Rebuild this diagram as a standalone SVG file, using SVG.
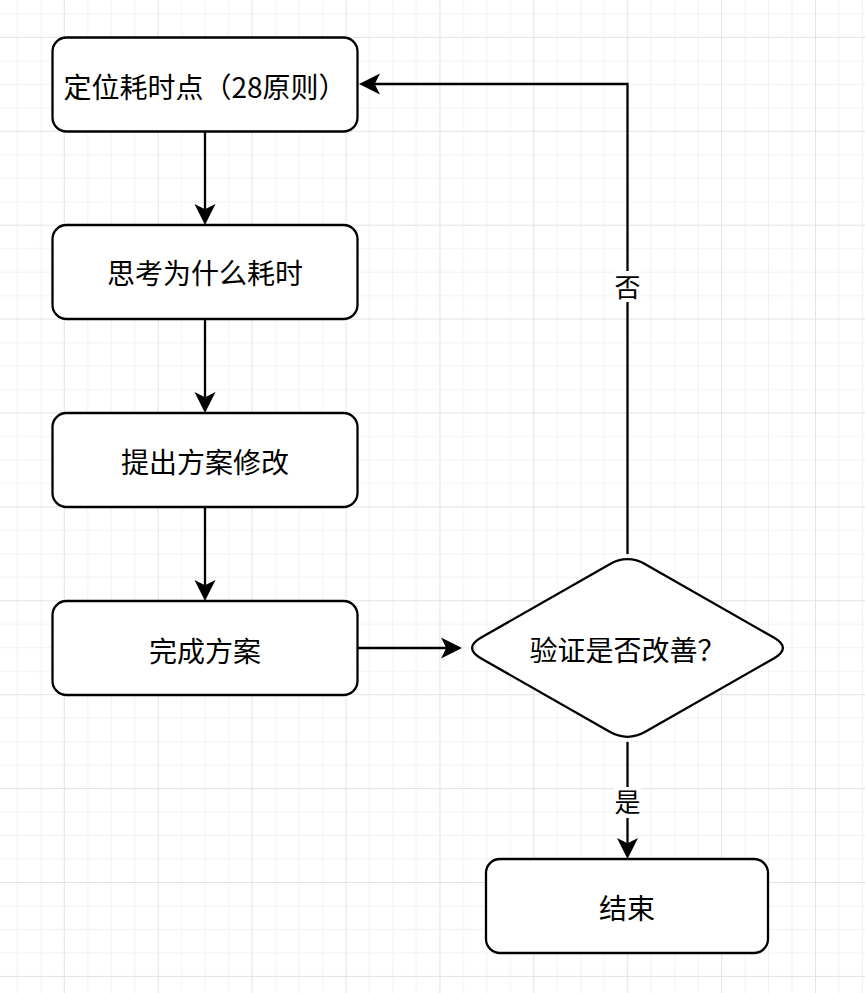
<svg xmlns="http://www.w3.org/2000/svg" width="865" height="993" viewBox="0 0 865 993">
<style>
.node{fill:#ffffff;stroke:#000000;stroke-width:2.3}
.lbl{font-family:"Noto Sans CJK SC","Noto Sans",sans-serif;font-size:28px;fill:#000000;text-anchor:middle}
.elbl{font-family:"Noto Sans CJK SC","Noto Sans",sans-serif;font-size:26px;fill:#000000;text-anchor:middle}
.edge{fill:none;stroke:#000000;stroke-width:2.3}
.lblbg{fill:#ffffff;stroke:none}
</style>
<defs>
<pattern id="grid" patternUnits="userSpaceOnUse" x="-30.1" y="-57" width="93.9" height="93.9">
<path d="M23.975 0V93.9M47.45 0V93.9M70.925 0V93.9M0 23.975H93.9M0 47.45H93.9M0 70.925H93.9" stroke="#f1f1f1" stroke-width="1" fill="none"/>
<path d="M0.5 0V93.9M0 0.5H93.9" stroke="#e2e2e2" stroke-width="1" fill="none"/>
</pattern>
<marker id="arrow" markerUnits="userSpaceOnUse" viewBox="-22 -11 23 22" refX="-16" refY="0" markerWidth="23" markerHeight="22" orient="auto">
<path d="M0,0 L-21,-10.5 L-15.75,0 L-21,10.5 Z" fill="#000000"/>
</marker>
</defs>
<rect x="0" y="0" width="865" height="993" fill="#ffffff"/>
<rect x="0" y="0" width="865" height="993" fill="url(#grid)"/>
<g id="connectors">
<path class="edge" d="M205 131V209" marker-end="url(#arrow)"/>
<path class="edge" d="M205 319V397" marker-end="url(#arrow)"/>
<path class="edge" d="M205 507V585" marker-end="url(#arrow)"/>
<path class="edge" d="M358 648H446" marker-end="url(#arrow)"/>
<path class="edge" d="M627.5 554V84H375" marker-end="url(#arrow)"/>
<path class="edge" d="M627.5 742V843" marker-end="url(#arrow)"/>
<rect class="lblbg" x="614" y="271" width="27" height="31"/>
<text class="elbl" x="627.5" y="296.6">否</text>
<rect class="lblbg" x="614" y="787" width="27" height="31"/>
<text class="elbl" x="627.5" y="812.4">是</text>
</g>
<g id="n1">
<rect class="node" x="52.5" y="37.5" width="305" height="94" rx="14"/>
<text class="lbl" x="205" y="97.6">定位耗时点（28原则）</text>
</g>
<g id="n2">
<rect class="node" x="52.5" y="225" width="305" height="94" rx="14"/>
<text class="lbl" x="205" y="284">思考为什么耗时</text>
</g>
<g id="n3">
<rect class="node" x="52.5" y="413" width="305" height="94" rx="14"/>
<text class="lbl" x="205" y="472.6">提出方案修改</text>
</g>
<g id="n4">
<rect class="node" x="52.5" y="601" width="305" height="94" rx="14"/>
<text class="lbl" x="205" y="661.6">完成方案</text>
</g>
<g id="d1">
<path class="node" d="M481.23,637.58 L609.27,564.42 Q627.5,554 645.73,564.42 L773.77,637.58 Q792,648 773.77,658.42 L645.73,731.58 Q627.5,742 609.27,731.58 L481.23,658.42 Q463,648 481.23,637.58 Z"/>
<text class="lbl" x="627.5" y="660.6">验证是否改善？</text>
</g>
<g id="n5">
<rect class="node" x="486" y="859" width="282" height="94" rx="14"/>
<text class="lbl" x="627" y="918.6">结束</text>
</g>
</svg>
